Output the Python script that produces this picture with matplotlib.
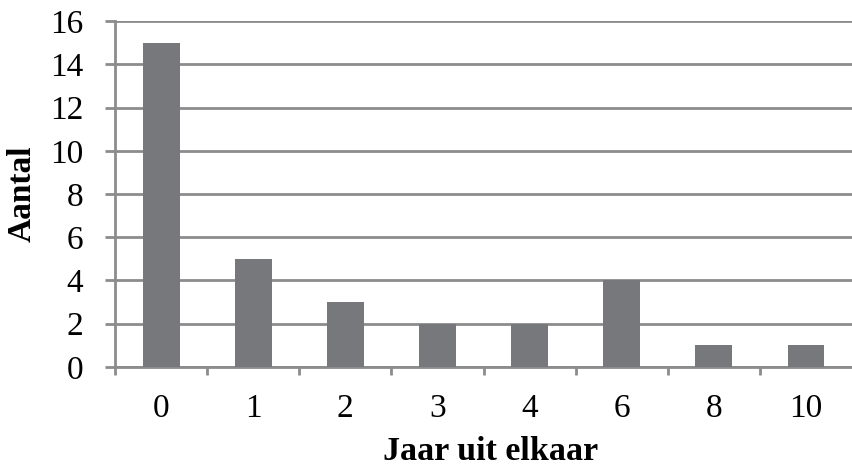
import matplotlib.pyplot as plt
import numpy as np

categories = ['0', '1', '2', '3', '4', '6', '8', '10']
counts = [15, 5, 3, 2, 2, 4, 1, 1]
yticks = [0, 2, 4, 6, 8, 10, 12, 14, 16]

bar_color = '#77787b'
line_color = '#8c8c8c'

plt.rcParams['font.family'] = ['Liberation Serif', 'DejaVu Serif']

fig = plt.figure(figsize=(8.52, 4.68), dpi=100)
ax = fig.add_axes([0.135, 0.216, 0.865, 0.739])

x = np.arange(len(categories))
ax.bar(x, counts, width=0.4, color=bar_color, zorder=3)

ax.set_xlim(-0.5, len(categories) - 0.5)
ax.set_ylim(0, 16)
ax.set_yticks(yticks)
ax.yaxis.grid(True, color=line_color, linewidth=2, zorder=0)

# labels at bar centres, tick marks between the categories
ax.set_xticks(x)
ax.set_xticklabels(categories)
ax.set_xticks(np.arange(len(categories)) - 0.5, minor=True)
ax.tick_params(axis='x', which='major', length=0, pad=19, labelsize=24)
ax.tick_params(axis='x', which='minor', length=6, width=2, color=line_color)
ax.tick_params(axis='y', length=7, width=2, color=line_color, pad=16, labelsize=24)

for side in ['top', 'right']:
    ax.spines[side].set_visible(False)
for side in ['left', 'bottom']:
    ax.spines[side].set_color(line_color)
    ax.spines[side].set_linewidth(2)

ax.set_xlabel('Jaar uit elkaar', fontsize=24.5, fontweight='bold')
ax.set_ylabel('Aantal', fontsize=24, fontweight='bold')
ax.xaxis.set_label_coords(0.51, -0.2)
ax.yaxis.set_label_coords(-0.105, 0.5)

fig.savefig('out.png', dpi=100)
